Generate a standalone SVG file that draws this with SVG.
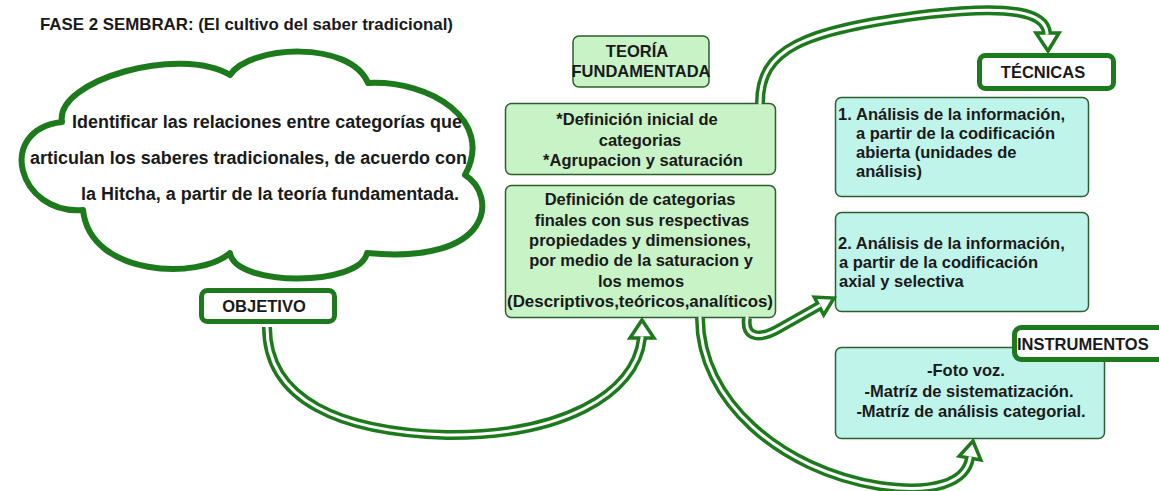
<svg xmlns="http://www.w3.org/2000/svg" width="1159" height="491" viewBox="0 0 1159 491">
  <style>
    text { font-family: "Liberation Sans", Arial, sans-serif; font-weight: bold; fill: #1a1a1a; }
    .t { font-size: 16.5px; }
    .c { text-anchor: middle; }
    .big { font-size: 18px; }
    .gbox { fill: #c8f3c6; stroke: #2d5e2d; stroke-width: 1.5; }
    .tbox { fill: #bff4eb; stroke: #2d5e2d; stroke-width: 1.5; }
    .lbl { fill: #ffffff; stroke: #1c7a1c; stroke-width: 5; }
    .cloud { fill: #ffffff; stroke: #1c7a1c; stroke-width: 6; stroke-linejoin: round; }
    .outer { fill: none; stroke: #1c7a1c; stroke-width: 10; }
    .inner { fill: none; stroke: #ffffff; stroke-width: 3; stroke-linecap: square; }
    .head { fill: #ffffff; stroke: #1c7a1c; stroke-width: 3.5; stroke-linejoin: miter; }
  </style>

  <text id="title" x="40" y="30" font-size="16.5" textLength="413" lengthAdjust="spacingAndGlyphs">FASE 2 SEMBRAR: (El cultivo del saber tradicional)</text>

  <g id="cloud">
    <path class="cloud" d="M 62 122 C 55 80 180 45 230 75 C 250 45 350 40 368 83 C 430 80 495 120 465 175 C 497 195 495 265 367 253 C 360 287 235 287 230 253 C 200 280 90 277 83 210 C 18 215 -5 130 62 122 Z"/>
    <text class="big" x="72" y="128" textLength="390" lengthAdjust="spacingAndGlyphs">Identificar las relaciones entre categorías que</text>
    <text class="big" x="30" y="164" textLength="437" lengthAdjust="spacingAndGlyphs">articulan los saberes tradicionales, de acuerdo con</text>
    <text class="big" x="81" y="200" textLength="378" lengthAdjust="spacingAndGlyphs">la Hitcha, a partir de la teoría fundamentada.</text>
  </g>

  <g id="objetivo">
    <rect class="lbl" x="201.5" y="290.5" width="133" height="31" rx="6"/>
    <text class="t c" x="264" y="312">OBJETIVO</text>
  </g>

  <g id="teoria">
    <rect class="gbox" x="573" y="36" width="136" height="51" rx="6"/>
    <text class="t c" x="637" y="57">TEORÍA</text>
    <text class="t c" x="641" y="77">FUNDAMENTADA</text>
  </g>

  <g id="definicion-inicial">
    <rect class="gbox" x="505.5" y="103.5" width="270" height="71" rx="6"/>
    <text class="t c" x="637" y="125">*Definición inicial de</text>
    <text class="t c" x="640" y="145.5">categorias</text>
    <text class="t c" x="643" y="166">*Agrupacion y saturación</text>
  </g>

  <g id="definicion-final">
    <rect class="gbox" x="505.5" y="185.5" width="270" height="132" rx="6"/>
    <text class="t c" x="640" y="205">Definición de categorias</text>
    <text class="t c" x="642" y="225.5">finales con sus respectivas</text>
    <text class="t c" x="640" y="245.5">propiedades y dimensiones,</text>
    <text class="t c" x="641" y="266">por medio de la saturacion y</text>
    <text class="t c" x="641" y="286.5">los memos</text>
    <text class="t c" x="640" y="306.5" textLength="266" lengthAdjust="spacingAndGlyphs">(Descriptivos,teóricos,analíticos)</text>
  </g>

  <g id="tecnicas">
    <rect class="lbl" x="979.5" y="55.5" width="134" height="33" rx="6"/>
    <text class="t c" x="1043" y="78">TÉCNICAS</text>
  </g>

  <g id="tecnica-1">
    <rect class="tbox" x="835.5" y="97.5" width="253" height="99" rx="6"/>
    <text class="t" x="838" y="120">1.</text>
    <text class="t" x="856" y="120">Análisis de la información,</text>
    <text class="t" x="856" y="139">a partir de la codificación</text>
    <text class="t" x="856" y="158">abierta (unidades de</text>
    <text class="t" x="856" y="177">análisis)</text>
  </g>

  <g id="tecnica-2">
    <rect class="tbox" x="835.5" y="212.5" width="253" height="99" rx="6"/>
    <text class="t" x="838" y="249">2. Análisis de la información,</text>
    <text class="t" x="839" y="268">a partir de la codificación</text>
    <text class="t" x="839" y="287">axial y selectiva</text>
  </g>

  <g id="instrumentos-lista">
    <rect class="tbox" x="835.5" y="347.5" width="269" height="91" rx="6"/>
    <text class="t c" x="966" y="376">-Foto voz.</text>
    <text class="t c" x="969" y="397">-Matríz de sistematización.</text>
    <text class="t c" x="971" y="417">-Matríz de análisis categorial.</text>
  </g>

  <g id="instrumentos">
    <rect class="lbl" x="1014.5" y="327.5" width="160" height="32" rx="7"/>
    <text class="t" x="1017" y="350">INSTRUMENTOS</text>
  </g>

  <g id="connectors">
    <g id="c-objetivo-definicion">
      <path class="outer" d="M 267 327 C 267 400 340 432 447 435 C 560 436 636 395 642 338"/>
      <polygon class="head" points="642,320 654,338 630,338"/>
      <path class="inner" d="M 267 327 C 267 400 340 432 447 435 C 560 436 636 395 642 338"/>
    </g>
    <g id="c-definicion-instrumentos">
      <path class="outer" d="M 700 318 C 700 400 780 470 880 486 C 935 494 966 482 970 458"/>
      <polygon class="head" points="973,441 980.8,459.9 959.2,456.1"/>
      <path class="inner" d="M 700 318 C 700 400 780 470 880 486 C 935 494 966 482 970 458"/>
    </g>
    <g id="c-definicion-tecnica2">
      <path class="outer" d="M 747 318 C 744 338 760 340 780 328 L 819 306"/>
      <polygon class="head" points="834,298 823.7,314.9 814.3,297.1"/>
      <path class="inner" d="M 747 318 C 744 338 760 340 780 328 L 819 306"/>
    </g>
    <g id="c-inicial-tecnicas">
      <path class="outer" d="M 760 103 C 760 50 800 30 930 14 C 1010 5 1045 12 1047 33"/>
      <polygon class="head" points="1048,51 1059,33 1036,33"/>
      <path class="inner" d="M 760 103 C 760 50 800 30 930 14 C 1010 5 1045 12 1047 33"/>
    </g>
  </g>
</svg>
